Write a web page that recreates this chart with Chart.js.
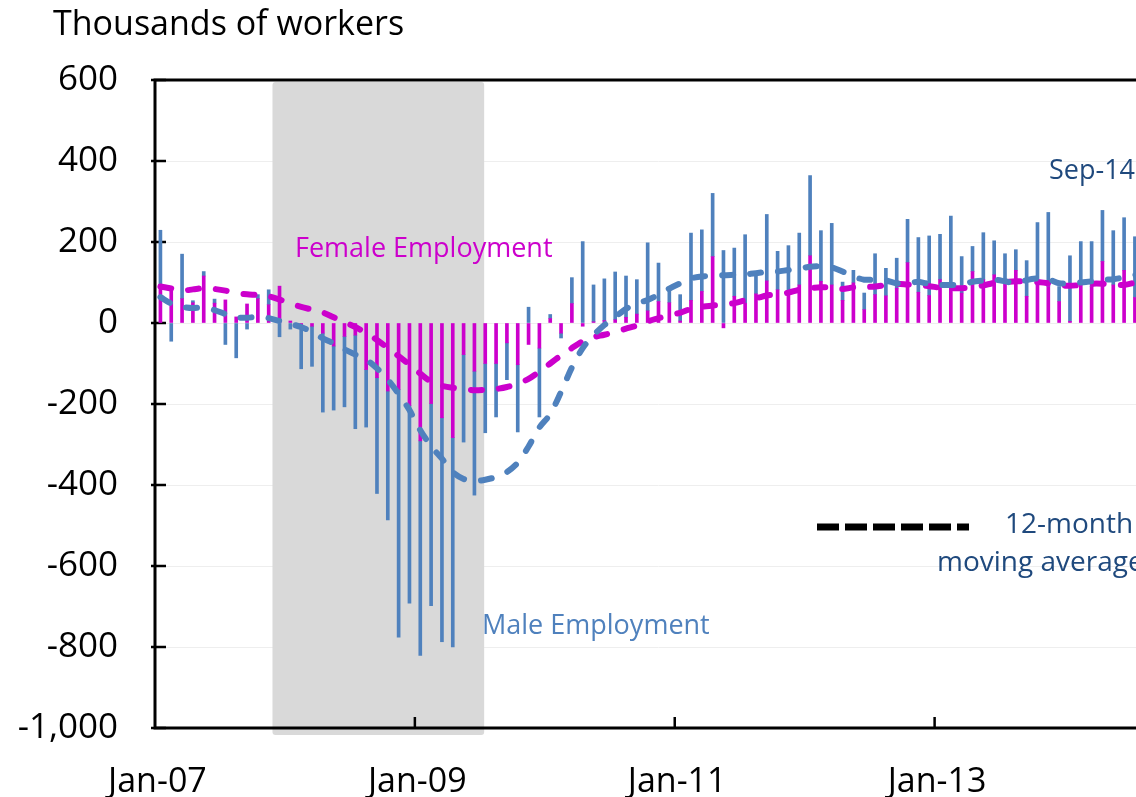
<!DOCTYPE html>
<html>
<head>
<meta charset="utf-8">
<script src="https://cdn.jsdelivr.net/npm/chart.js@4.4.0/dist/chart.umd.min.js"></script>
<style>
    html, body { margin: 0; padding: 0; background: #fff; overflow: hidden; }
    #wrap { width: 1162px; height: 797px; position: relative; }
</style>
</head>
<body>
<div id="wrap"><canvas id="workersChart" width="1162" height="797"></canvas></div>
<script>
// months Jan-07 .. Sep-14
const monthNames = ['Jan', 'Feb', 'Mar', 'Apr', 'May', 'Jun', 'Jul', 'Aug', 'Sep', 'Oct', 'Nov', 'Dec'];
const years = ['07', '08', '09', '10', '11', '12', '13', '14'];
const months = [];
years.forEach(yy => monthNames.forEach((m, k) => {
    if (yy === '14' && k > 8) return;
    months.push(m + '-' + yy);
}));

// monthly change, thousands of workers
const femaleChange = [
    95, 85, 60, 50, 116, 49, 57, 15, 47, 60,
    45, 91, 5, -5, -8, -25, -57, -33, -30, -115,
    -135, -168, -164, -204, -291, -199, -234, -283, -78, -119,
    -100, -100, -49, -103, -53, -62, 11, -25, 48, -8,
    3, 6, 8, 14, 22, 30, 53, 50, 5, 56,
    78, 164, -12, 66, 49, 72, 104, 82, 74, 94,
    166, 103, 94, 56, 99, 33, 70, 67, 86, 149,
    76, 68, 107, 86, 74, 127, 107, 119, 107, 130,
    66, 94, 90, 53, 4, 94, 90, 152, 94, 130,
    63, 90, 100
];
const maleChange = [
    134, -45, 110, 5, 11, 10, -53, -86, -15, 10,
    37, -34, -15, -108, -99, -195, -158, -174, -231, -142,
    -286, -318, -612, -488, -530, -499, -553, -517, -216, -306,
    -171, -132, -91, -166, 39, -170, 10, -12, 64, 201,
    91, 103, 118, 102, 85, 168, 95, 30, 65, 166,
    152, 156, 179, 119, 169, 53, 164, 95, 117, 128,
    198, 125, 152, 45, 31, 41, 101, 68, 74, 107,
    135, 147, 112, 178, 90, 62, 116, 84, 64, 51,
    88, 154, 183, 37, 162, 107, 111, 126, 134, 130,
    150, 130, 150
];

// 12-month moving averages
const femaleAvg = [
    90, 85, 80, 83, 86, 84, 80, 74, 71, 69,
    66, 58, 48, 40, 33, 26, 14, 2, -10, -25,
    -42, -62, -82, -103, -125, -145, -155, -160, -163, -166,
    -165, -163, -158, -150, -138, -120, -100, -80, -62, -45,
    -35, -29, -22, -14, -6, 4, 12, 20, 25, 35,
    40, 43, 46, 49, 56, 61, 68, 71, 75, 82,
    86, 88, 88, 84, 88, 89, 90, 94, 97, 95,
    93, 91, 87, 86, 86, 89, 93, 99, 101, 103,
    103, 101, 98, 93, 92, 94, 97, 97, 95, 94,
    100, 110, 118
];
const maleAvg = [
    64, 48, 40, 37, 38, 32, 22, 14, 13, 15,
    12, 5, -2, -10, -22, -38, -50, -65, -78, -90,
    -112, -140, -175, -215, -265, -304, -335, -368, -385, -390,
    -387, -380, -368, -345, -305, -258, -225, -170, -110, -62,
    -30, -5, 15, 35, 48, 57, 70, 85, 98, 110,
    115, 116, 118, 119, 120, 123, 126, 127, 131, 134,
    139, 140, 137, 127, 115, 107, 107, 105, 98, 97,
    102, 96, 94, 94, 94, 102, 105, 107, 103, 98,
    106, 110, 108, 98, 98, 100, 103, 107, 108, 113,
    118, 122, 125
];

const recession = ['Dec-07', 'Jun-09'];
const tickLabels = ['Jan-07', 'Jan-09', 'Jan-11', 'Jan-13'];

const FONT = '"Open Sans", sans-serif';
const MAGENTA = '#CC00CC';
const BLUE = '#4F81BD';
const NAVY = '#1F497D';

const decorations = {
    id: 'decorations',
    beforeDatasetsDraw(chart) {
        const { ctx, chartArea: a, scales: { x, y } } = chart;
        const w = x.getPixelForValue(1) - x.getPixelForValue(0);
        const x0 = x.getPixelForValue(months.indexOf(recession[0])) - 0.65 * w;
        const x1 = x.getPixelForValue(months.indexOf(recession[1])) + 0.9 * w;

        ctx.save();
        ctx.fillStyle = '#D9D9D9';
        ctx.beginPath();
        ctx.roundRect(x0, a.top + 2, x1 - x0, a.bottom + 7 - a.top - 2, 3);
        ctx.fill();

        // plot frame: top, left, bottom
        ctx.strokeStyle = '#000';
        ctx.lineWidth = 3;
        ctx.beginPath();
        ctx.moveTo(a.right + 2, a.top);
        ctx.lineTo(a.left, a.top);
        ctx.lineTo(a.left, a.bottom);
        ctx.lineTo(a.right + 2, a.bottom);
        ctx.stroke();

        // inside tick marks
        ctx.lineWidth = 2.5;
        ctx.beginPath();
        y.ticks.forEach(t => {
            const py = y.getPixelForValue(t.value);
            ctx.moveTo(a.left - 4, py);
            ctx.lineTo(a.left + 11, py);
        });
        tickLabels.forEach(l => {
            const i = months.indexOf(l);
            if (i <= 0) return;
            const px = x.getPixelForValue(i) - w / 2;
            ctx.moveTo(px, a.bottom);
            ctx.lineTo(px, a.bottom - 11);
        });
        ctx.stroke();
        ctx.restore();
    },
    afterDraw(chart) {
        const { ctx } = chart;
        ctx.save();
        ctx.textBaseline = 'alphabetic';
        ctx.textAlign = 'left';

        ctx.fillStyle = '#000';
        ctx.font = '34px ' + FONT;
        ctx.fillText('Thousands of workers', 53, 35);

        ctx.font = '27px ' + FONT;
        ctx.fillStyle = MAGENTA;
        ctx.fillText('Female Employment', 295, 257);
        ctx.fillStyle = BLUE;
        ctx.fillText('Male Employment', 482, 634);
        ctx.fillStyle = NAVY;
        ctx.fillText('Sep-14', 1049, 179);

        ctx.font = '28px ' + FONT;
        ctx.fillText('12-month', 1005, 533);
        ctx.fillText('moving average', 937, 571);

        // legend sample for the dashed averages
        ctx.strokeStyle = '#000';
        ctx.lineWidth = 7;
        ctx.setLineDash([22, 6]);
        ctx.beginPath();
        ctx.moveTo(817, 527);
        ctx.lineTo(969, 527);
        ctx.stroke();
        ctx.restore();
    }
};

const lineStyle = {
    type: 'line',
    borderWidth: 6,
    borderDash: [11, 17],
    borderCapStyle: 'round',
    pointRadius: 0,
    tension: 0.3,
    fill: false
};

new Chart(document.getElementById('workersChart'), {
    type: 'bar',
    data: {
        labels: months,
        datasets: [
            { ...lineStyle, label: 'Male 12-month average', data: maleAvg, borderColor: BLUE, stack: 'avgM' },
            { ...lineStyle, label: 'Female 12-month average', data: femaleAvg, borderColor: MAGENTA, stack: 'avgF' },
            { label: 'Female Employment', data: femaleChange, backgroundColor: MAGENTA, barThickness: 3, stack: 'jobs' },
            { label: 'Male Employment', data: maleChange, backgroundColor: BLUE, barThickness: 3, stack: 'jobs' }
        ]
    },
    options: {
        responsive: false,
        devicePixelRatio: 1,
        animation: false,
        layout: { padding: { top: 80, left: 0, right: 0, bottom: 0 } },
        plugins: {
            legend: { display: false },
            tooltip: { enabled: false },
            title: { display: false }
        },
        scales: {
            x: {
                type: 'category',
                offset: true,
                grid: { display: false, drawTicks: false },
                border: { display: false },
                ticks: {
                    autoSkip: false,
                    maxRotation: 0,
                    minRotation: 0,
                    padding: 34,
                    labelOffset: -3,
                    color: '#000',
                    font: { family: FONT, size: 34 },
                    callback: function (value) {
                        const l = this.getLabelForValue(value);
                        return tickLabels.includes(l) ? l : '';
                    }
                },
                afterFit: s => {
                    s.height = 69;
                    s.paddingLeft = 0;
                    s.paddingRight = 0;
                }
            },
            y: {
                stacked: true,
                min: -1000,
                max: 600,
                grid: { color: '#EEEEEE', lineWidth: 1, drawTicks: false },
                border: { display: false },
                ticks: {
                    stepSize: 200,
                    padding: 37,
                    color: '#000',
                    font: { family: FONT, size: 35 },
                    callback: v => v.toLocaleString('en-US')
                },
                afterFit: s => { s.width = 155; }
            }
        }
    },
    plugins: [decorations]
});
</script>
</body>
</html>
